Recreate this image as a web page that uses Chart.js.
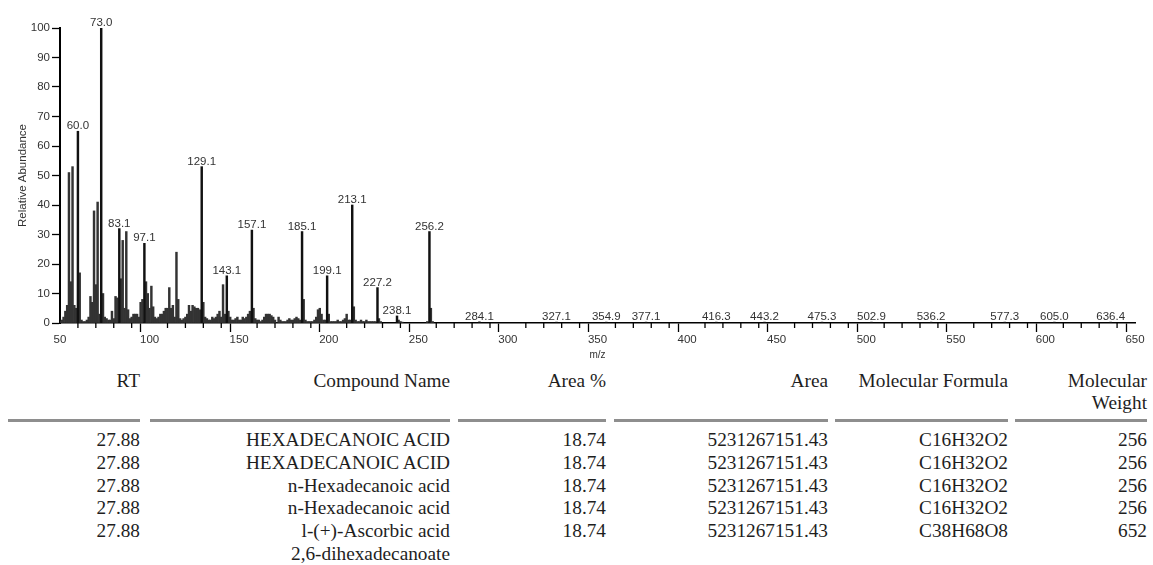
<!DOCTYPE html>
<html lang="en">
<head>
    <meta charset="UTF-8">
    <title>Mass Spectrum - Hexadecanoic Acid</title>
    <script src="https://cdn.jsdelivr.net/npm/chart.js"></script>
    <style>
        body {
            margin: 0;
            background: #fff;
            width: 1153px;
            height: 565px;
            overflow: hidden;
            position: relative;
        }

        #spectrum {
            position: absolute;
            left: 0;
            top: 0;
        }

        .results {
            position: absolute;
            left: 8px;
            top: 370px;
            display: grid;
            grid-template-columns: 132px 310px 156px 222px 180px 139px;
            align-items: start;
            font-family: "Liberation Serif", "Times New Roman", serif;
            font-size: 19.3px;
            color: #1e1e1e;
            text-align: right;
        }

        /* gaps between the separator segments */
        .results > div:nth-child(6n+2) { margin-left: 10px; }
        .results > div:nth-child(6n+3) { margin-left: 8px; }
        .results > div:nth-child(6n+4) { margin-left: 8px; }
        .results > div:nth-child(6n+5) { margin-left: 7px; }
        .results > div:nth-child(6n) { margin-left: 7px; }

        .results .head {
            height: 49px;
            line-height: 22px;
            border-bottom: 3px solid #8e8e8e;
            margin-bottom: 7px;
        }

        .results .cell {
            line-height: 22.8px;
        }
    </style>
</head>
<body>
    <canvas id="spectrum" width="1153" height="362"></canvas>
    <div class="results" id="results"></div>

    <script>
        // Peaks with m/z labels
        const labeledMz = [60.0, 73.0, 83.1, 97.1, 129.1, 143.1, 157.1, 185.1, 199.1, 213.1, 227.2, 238.1, 256.2,
            284.1, 327.1, 354.9, 377.1, 416.3, 443.2, 475.3, 502.9, 536.2, 577.3, 605.0, 636.4];
        const labeledAbundance = [65, 100, 32, 27, 53, 16, 31.5, 31, 16, 40, 12, 2.4, 31,
            0.4, 0.3, 0.3, 0.3, 0.3, 0.3, 0.3, 0.3, 0.3, 0.3, 0.3, 0.3];

        // Remaining ions (unlabeled)
        const otherMz = [50, 51, 52, 53, 54, 55, 56, 57, 58, 59, 61, 62, 63, 64, 65, 66, 67, 68, 69, 70,
            71, 72, 74, 75, 76, 77, 78, 79, 80, 81, 82, 84, 85, 86, 87, 88, 89, 90, 91, 92,
            93, 94, 95, 96, 98, 99, 100, 101, 102, 103, 104, 105, 106, 107, 108, 109, 110, 111, 112, 113,
            114, 115, 116, 117, 118, 119, 120, 121, 122, 123, 124, 125, 126, 127, 128, 130, 131, 132, 133, 134,
            135, 136, 137, 138, 139, 140, 141, 142, 144, 145, 146, 147, 148, 149, 150, 151, 152, 153, 154, 155,
            156, 158, 159, 160, 161, 162, 163, 164, 165, 166, 167, 168, 169, 170, 172, 173, 174, 175, 176, 177,
            178, 179, 180, 181, 182, 183, 184, 186, 187, 188, 189, 190, 191, 192, 193, 194, 195, 196, 197, 198,
            200, 201, 202, 203, 204, 205, 206, 207, 208, 209, 210, 211, 212, 214, 215, 216, 217, 218, 219, 220,
            221, 222, 223, 224, 225, 226, 228, 229, 239, 240, 241, 255, 257, 258];
        const otherAbundance = [0.5, 1, 2, 4, 6, 51, 14, 53, 6, 5, 17, 1, 0.5, 0.5, 1, 2, 9, 7, 38, 13,
            41, 3, 10, 2, 1.5, 1, 1, 4, 1.5, 9, 8.5, 15, 28, 5, 31, 4.5, 1.5, 2, 3, 3,
            3, 2, 7, 8, 14, 10, 5, 12.5, 5.5, 2, 1.5, 2, 3, 3, 4, 5, 5, 12, 5, 6,
            2, 24, 8, 1.5, 1, 1.5, 2, 3, 6, 4, 6, 5.5, 5, 5, 4.5, 7, 2, 1.5, 1, 1,
            2, 1.5, 2, 3, 4, 2, 13, 3, 4, 2, 1, 1, 1.5, 2, 1, 1, 2, 1.5, 2, 3,
            4, 5, 1.5, 1, 1, 0.5, 1, 2, 3, 3, 3, 2.5, 2, 1, 2, 1, 0.5, 0.5, 0.5, 1,
            1.5, 1, 1, 1.5, 2, 1.5, 1, 8, 1, 0.5, 0.5, 0.5, 0.5, 1, 2, 4.5, 5, 3, 1, 1,
            3, 0.5, 0.5, 0.5, 0.5, 1, 0.5, 0.5, 1, 1.5, 3, 1, 1, 5.5, 1, 0.5, 0.5, 1, 0.5, 0.5,
            1, 0.5, 0.5, 0.5, 0.5, 0.5, 1.5, 0.5, 1, 0.5, 0.3, 0.5, 5, 0.5];

        const yTicks = [0, 100, 10];
        const xTicks = [50, 650, 10];

        // Compound table
        const tableHeaders = ['RT', 'Compound Name', 'Area %', 'Area', 'Molecular Formula', 'Molecular<br>Weight'];
        const rtValues = ['27.88', '27.88', '27.88', '27.88', '27.88'];
        const compoundNames = ['HEXADECANOIC ACID', 'HEXADECANOIC ACID', 'n-Hexadecanoic acid', 'n-Hexadecanoic acid',
            'l-(+)-Ascorbic acid<br>2,6-dihexadecanoate'];
        const areaPercents = ['18.74', '18.74', '18.74', '18.74', '18.74'];
        const areas = ['5231267151.43', '5231267151.43', '5231267151.43', '5231267151.43', '5231267151.43'];
        const formulas = ['C16H32O2', 'C16H32O2', 'C16H32O2', 'C16H32O2', 'C38H68O8'];
        const weights = ['256', '256', '256', '256', '652'];

        const axisFont = { family: '"Liberation Sans", Arial, sans-serif', size: 11.5 };

        // Draws the m/z value above each labeled peak
        const peakLabels = {
            id: 'peakLabels',
            afterDatasetsDraw(chart) {
                const ctx = chart.ctx;
                const meta = chart.getDatasetMeta(0);
                ctx.save();
                ctx.font = '11.5px "Liberation Sans", Arial, sans-serif';
                ctx.fillStyle = '#333';
                ctx.textAlign = 'center';
                ctx.textBaseline = 'alphabetic';
                meta.data.forEach((bar, i) => {
                    ctx.fillText(labeledMz[i].toFixed(1), bar.x, bar.y - 2);
                });
                ctx.restore();
            }
        };

        // Short ticks between the labeled x ticks
        const minorTicks = {
            id: 'minorTicks',
            afterDraw(chart) {
                const ctx = chart.ctx;
                const xs = chart.scales.x;
                const base = chart.chartArea.bottom;
                ctx.save();
                ctx.strokeStyle = '#000';
                ctx.lineWidth = 1.3;
                xs.ticks.forEach(t => {
                    if (t.value % 50 === 0) return;
                    const px = xs.getPixelForValue(t.value);
                    ctx.beginPath();
                    ctx.moveTo(px, base);
                    ctx.lineTo(px, base + 5);
                    ctx.stroke();
                });
                ctx.restore();
            }
        };

        new Chart(document.getElementById('spectrum'), {
            type: 'bar',
            data: {
                datasets: [
                    {
                        data: labeledMz.map((mz, i) => ({ x: mz, y: labeledAbundance[i] })),
                        backgroundColor: '#111',
                        barThickness: 1.8,
                        grouped: false
                    },
                    {
                        data: otherMz.map((mz, i) => ({ x: mz, y: otherAbundance[i] })),
                        backgroundColor: '#333',
                        barThickness: 1.8,
                        grouped: false
                    }
                ]
            },
            options: {
                responsive: false,
                animation: false,
                layout: { padding: { left: 0, right: 18, top: 28, bottom: 0 } },
                plugins: {
                    legend: { display: false },
                    tooltip: { enabled: false }
                },
                scales: {
                    x: {
                        type: 'linear',
                        offset: false,
                        min: xTicks[0],
                        max: xTicks[1],
                        afterFit: s => { s.height = 39; },
                        border: { display: true, color: '#000', width: 1.5 },
                        grid: {
                            drawOnChartArea: false,
                            tickLength: 9,
                            tickWidth: 1.3,
                            tickColor: c => (c.tick && c.tick.value % 50 === 0) ? '#000' : 'rgba(0,0,0,0)'
                        },
                        ticks: {
                            stepSize: xTicks[2],
                            autoSkip: false,
                            maxRotation: 0,
                            padding: 1,
                            color: '#333',
                            font: axisFont,
                            callback: v => (v % 50 === 0 ? String(v) : '')
                        },
                        title: {
                            display: true,
                            text: 'm/z',
                            color: '#333',
                            font: { family: axisFont.family, size: 10 },
                            padding: { top: 0, bottom: 1 }
                        }
                    },
                    y: {
                        min: yTicks[0],
                        max: yTicks[1],
                        afterFit: s => { s.width = 60; },
                        border: { display: true, color: '#000', width: 2 },
                        grid: {
                            drawOnChartArea: false,
                            tickLength: 8,
                            tickWidth: 1.3,
                            tickColor: '#000'
                        },
                        ticks: {
                            stepSize: yTicks[2],
                            padding: 2,
                            color: '#333',
                            font: axisFont
                        },
                        title: {
                            display: true,
                            text: 'Relative Abundance',
                            color: '#333',
                            font: { family: axisFont.family, size: 11.5 },
                            padding: { top: 16, bottom: 0 }
                        }
                    }
                }
            },
            plugins: [peakLabels, minorTicks]
        });

        // Build the compound table below the spectrum
        const results = document.getElementById('results');
        tableHeaders.forEach(h => {
            const div = document.createElement('div');
            div.className = 'head';
            div.innerHTML = h;
            results.appendChild(div);
        });
        rtValues.forEach((rt, i) => {
            [rt, compoundNames[i], areaPercents[i], areas[i], formulas[i], weights[i]].forEach(v => {
                const div = document.createElement('div');
                div.className = 'cell';
                div.innerHTML = v;
                results.appendChild(div);
            });
        });
    </script>
</body>
</html>
